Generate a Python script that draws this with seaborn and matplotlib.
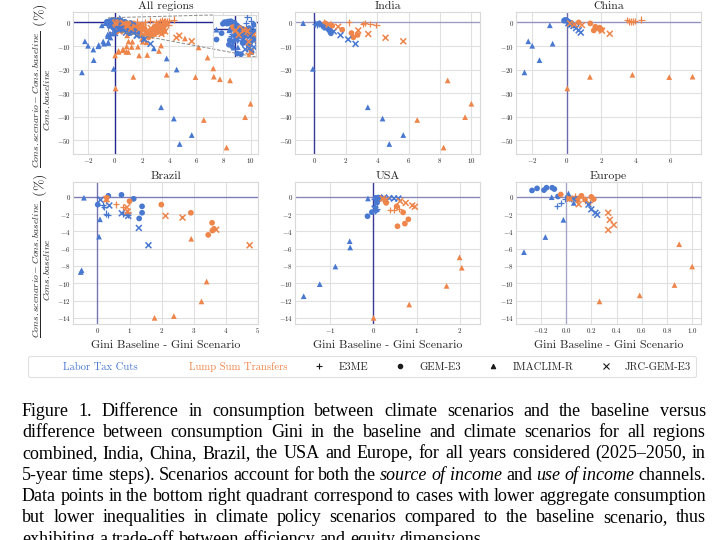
import matplotlib
matplotlib.use("Agg")
import matplotlib.pyplot as plt
import pandas as pd
import seaborn as sns
from matplotlib.lines import Line2D
from matplotlib.ticker import MultipleLocator
from mpl_toolkits.axes_grid1.inset_locator import mark_inset

# ---------------- data ----------------
# model codes: E=E3ME, G=GEM-E3, I=IMACLIM-R, J=JRC-GEM-E3
INDIA_LTC_MODEL = ['I','I','I','I','I','I','G','G','G','G','G','G','J','J','J','J','J','J','E','E','E','E','E','E']
INDIA_LTC_X = [-0.72,-0.10,3.40,4.34,4.77,5.66, 0.30,0.55,0.75,0.90,1.00,1.05, 0.20,0.75,1.23,1.66,2.15,2.62, 0.06,0.15,0.28,0.40,0.50,0.62]
INDIA_LTC_Y = [-0.3,-19.7,-36.0,-40.8,-51.6,-47.8, -0.5,-1.3,-2.2,-3.0,-3.9,-4.6, -0.6,-2.0,-3.8,-5.4,-7.2,-9.1, -0.7,-0.9,-0.5,-1.0,-1.4,-1.8]
INDIA_LSS_MODEL = ['I','I','I','I','I','G','G','G','G','G','G','J','J','J','J','J','J','E','E','E','E','E','E']
INDIA_LSS_X = [6.55,8.23,8.49,9.60,10.0, 0.70,1.13,1.77,2.36,2.48,2.75, 0.90,1.51,2.79,3.43,4.53,5.66, 0.64,2.19,3.10,3.57,3.94,3.20]
INDIA_LSS_Y = [-41.4,-53.1,-24.6,-40.2,-34.5, -0.4,-1.4,-3.1,-4.5,-6.3,-5.3, -0.9,-1.8,-3.4,-4.9,-6.5,-8.0, 0.0,0.0,-0.7,-0.7,-1.0,-0.3]

CHINA_LTC_MODEL = ['I','I','I','I','I','I','G','G','G','G','G','G','J','J','J','J','J','J','E','E','E','E','E','E']
CHINA_LTC_X = [-2.44,-2.22,-1.99,-1.57,-0.97,-0.81, -0.15,-0.08,0.00,0.06,0.12,0.20, 0.10,0.25,0.40,0.55,0.70,0.82, -0.05,0.05,0.15,0.25,0.30,0.35]
CHINA_LTC_Y = [-21.2,-8.0,-9.9,-16.0,-1.2,-9.0, 0.8,1.1,0.9,0.5,0.2,-0.2, -0.3,-0.9,-1.5,-2.4,-3.3,-4.3, 0.3,0.0,-0.4,-0.8,-0.3,-1.0]
CHINA_LSS_MODEL = ['I','I','I','I','I','G','G','G','G','G','G','J','J','J','J','J','J','E','E','E','E','E','E']
CHINA_LSS_X = [0.04,1.35,3.81,5.94,7.29, 0.70,1.37,1.57,1.66,1.91,2.02, 0.20,0.45,0.89,1.75,2.05,2.50, 3.50,3.60,3.70,3.85,3.95,4.33]
CHINA_LSS_Y = [-28.0,-23.1,-22.2,-23.2,-23.0, 0.0,-0.4,-3.4,-1.8,-2.2,-3.0, -0.4,-0.8,-1.1,-2.9,-3.5,-4.8, 1.0,0.5,0.3,0.5,0.7,1.2]

BRAZIL_LTC_MODEL = ['I','I','I','I','I','G','G','G','G','G','G','G','J','J','J','J','J','J','E','E','E','E','E','E']
BRAZIL_LTC_X = [-0.52,-0.49,-0.42,0.05,0.08, 0.01,0.34,0.75,1.13,1.39,1.39,1.30, 0.10,0.37,0.76,0.96,1.29,1.59, 0.16,0.22,0.26,0.32,0.80,0.94]
BRAZIL_LTC_Y = [-8.7,-8.5,-0.1,-4.6,-2.6, -0.9,0.12,0.23,-0.23,-1.1,-1.84,-2.5, -0.35,-1.0,-1.9,-2.2,-3.6,-5.6, -1.0,-1.2,-1.95,-2.1,-1.95,-2.1]
BRAZIL_LSS_MODEL = ['I','I','I','I','I','G','G','G','G','G','G','G','G','J','J','J','J','J','J','J','E','E','E','E']
BRAZIL_LSS_X = [1.78,2.38,2.92,3.24,3.40, 0.29,1.00,1.99,2.91,3.57,3.63,3.58,3.45, 0.28,0.92,0.94,2.12,2.65,3.70,4.74, 0.26,0.58,0.81,0.93]
BRAZIL_LSS_Y = [-14.0,-13.8,-4.85,-12.1,-9.8, -0.1,-0.5,-0.9,-1.84,-3.0,-3.7,-3.9,-4.4, -0.27,-1.2,-1.7,-2.2,-2.4,-3.8,-5.6, -0.5,-0.86,-1.2,-1.76]

USA_LTC_MODEL = ['I','I','I','I','I','I','G','G','G','G','G','G','E','E','E','E','E','E','J','J','J','J','J','J']
USA_LTC_X = [-1.60,-1.23,-0.87,-0.54,-0.53,-0.12, -0.13,-0.03,0.10,0.09,0.12,0.06, 0.02,0.04,0.06,0.08,0.05,0.03, 0.04,0.10,0.25,0.37,0.48,0.58]
USA_LTC_Y = [-11.5,-10.1,-8.06,-5.13,-5.86,-0.19, -2.24,-1.77,-0.39,-0.66,-0.08,-0.12, -1.1,-1.23,-1.54,-1.35,-1.6,-0.3, -1.35,-0.2,-0.08,-0.15,-0.19,-0.19]
USA_LSS_MODEL = ['I','I','I','I','I','G','G','G','G','G','G','G','J','J','J','J','J','J','E','E','E','E','E']
USA_LSS_X = [0.01,0.83,1.69,1.99,2.04, 0.28,0.30,0.54,0.69,0.81,0.73,0.56, 0.22,0.30,0.62,0.75,0.90,0.96, 0.18,0.25,0.39,0.47,0.60]
USA_LSS_Y = [-14.0,-12.46,-10.3,-7.0,-8.2, -0.5,-0.7,-1.1,-1.8,-2.6,-3.1,-3.4, -0.2,-0.35,-0.5,-0.7,-1.0,-1.15, -0.1,-0.25,-1.54,-1.54,-1.35]

EUROPE_LTC_MODEL = ['G','G','G','G','G','G','G','I','I','I','I','I','I','E','E','E','E','J','J','J','J','J']
EUROPE_LTC_X = [-0.27,-0.23,-0.175,-0.155,-0.11,-0.093,-0.064, -0.334,-0.164,-0.114,-0.021,0.019,0.061, -0.072,-0.042,-0.008,0.02, 0.061,0.178,0.20,0.233,0.247]
EUROPE_LTC_Y = [0.74,0.98,0.78,1.06,1.06,0.9,0.04, -6.4,-4.65,-0.04,-2.66,0.39,-0.7, -1.06,-0.7,-0.2,-0.1, -0.27,-0.9,-1.45,-1.84,-2.07]
EUROPE_LSS_MODEL = ['G','G','G','G','G','G','G','E','E','E','E','J','J','J','J','J','J','I','I','I','I','I']
EUROPE_LSS_X = [-0.042,0.024,0.09,0.122,0.15,0.20,0.22, 0.07,0.095,0.15,0.19, 0.03,0.10,0.334,0.347,0.379,0.334, 0.265,0.584,0.86,0.897,1.0]
EUROPE_LSS_Y = [0.27,-0.2,-0.39,0.12,-0.31,0.0,-0.27, 0.08,-0.12,-0.5,-0.59, -0.2,-0.86,-1.84,-2.66,-3.25,-3.83, -12.1,-11.4,-10.2,-5.48,-8.06]

# points that only appear in the "All regions" panel (other regions)
OTHER_LTC_MODEL = ['I','I','I','I','I','I'] + ['G'] * 17 + ['E','E','E','J','J','J','J']
OTHER_LTC_X = [2.14,2.87,3.81,4.55,-0.37,-1.20, -0.60,-0.42,-0.30,0.45,0.42,0.47,0.35,0.40,0.15,-0.05,1.30,1.60,1.80,-0.11,0.07,0.38,0.19, 0.30,0.38,0.27, 0.25,0.45,0.34,1.40]
OTHER_LTC_Y = [-6.8,-11.0,-15.3,-20.0,-4.7,-9.6, 0.3,-1.5,-0.6,0.6,-0.5,-1.4,-2.2,-3.3,-3.6,-2.5,-2.8,-3.6,-4.8,-1.6,-3.5,-1.8,-2.0, 1.7,1.2,0.8, -2.9,-2.6,-2.8,-4.2]
OTHER_LSS_MODEL = ['I'] * 11 + ['G'] * 12 + ['J','J','J','E','E','E','E']
OTHER_LSS_X = [0.25,0.61,0.98,1.23,1.28,5.16,6.17,6.83,7.25,7.74,2.33, 2.60,2.90,3.10,3.30,3.50,2.40,1.80,1.40,2.20,3.70,3.60,2.00, 3.20,1.20,2.60, 2.60,3.00,3.30,1.60]
OTHER_LSS_Y = [-12.5,-11.8,-12.5,-10.4,-8.2,-6.8,-10.6,-14.9,-19.5,-24.1,-8.4, -3.5,-2.5,-4.2,-3.0,-1.5,-5.0,-1.0,-2.0,-2.8,-1.1,-3.3,-5.5, -2.0,-2.6,-5.6, 0.8,0.2,0.6,0.3]

SCENARIOS = ['Labor Tax Cuts', 'Lump Sum Transfers']
MODELS = ['E3ME', 'GEM-E3', 'IMACLIM-R', 'JRC-GEM-E3']
MODEL_CODES = {'E': 'E3ME', 'G': 'GEM-E3', 'I': 'IMACLIM-R', 'J': 'JRC-GEM-E3'}
PANEL_TITLES = ['All regions', 'India', 'China', 'Brazil', 'USA', 'Europe']
XLABEL = 'Gini Baseline - Gini Scenario'
YLABEL = r'$\frac{Cons.scenario - Cons.baseline}{Cons.baseline}$ (%)'

# words starting with '*' are set in italics
CAPTION_LINES = [
    "Figure 1. Difference in consumption between climate scenarios and the baseline versus",
    "difference between consumption Gini in the baseline and climate scenarios for all regions",
    "combined, India, China, Brazil, the USA and Europe, for all years considered (2025\u20132050, in",
    "5-year time steps). Scenarios account for both the *source *of *income and *use *of *income channels.",
    "Data points in the bottom right quadrant correspond to cases with lower aggregate consumption",
    "but lower inequalities in climate policy scenarios compared to the baseline scenario, thus",
    "exhibiting a trade-off between efficiency and equity dimensions.",
]

# ---------------- style ----------------
PALETTE = {'Labor Tax Cuts': '#4878d0', 'Lump Sum Transfers': '#ee854a'}
MARKERS = {'E3ME': '+', 'GEM-E3': 'o', 'IMACLIM-R': '^', 'JRC-GEM-E3': 'x'}
SIZES = {'E3ME': 22, 'GEM-E3': 17, 'IMACLIM-R': 17, 'JRC-GEM-E3': 18}
LWS = {'E3ME': 0.9, 'GEM-E3': 0, 'IMACLIM-R': 0, 'JRC-GEM-E3': 1.1}
REFCOLOR = '#1c1c8c'

sns.set_theme(style='whitegrid')
plt.rcParams['font.family'] = ['cmr10', 'DejaVu Sans']
plt.rcParams['mathtext.fontset'] = 'cm'
plt.rcParams['axes.formatter.use_mathtext'] = True


def region_frame(ltc_m, ltc_x, ltc_y, lss_m, lss_x, lss_y):
    a = pd.DataFrame({'x': ltc_x, 'y': ltc_y, 'model': [MODEL_CODES[m] for m in ltc_m]})
    a['scenario'] = SCENARIOS[0]
    b = pd.DataFrame({'x': lss_x, 'y': lss_y, 'model': [MODEL_CODES[m] for m in lss_m]})
    b['scenario'] = SCENARIOS[1]
    return pd.concat([a, b], ignore_index=True)


india = region_frame(INDIA_LTC_MODEL, INDIA_LTC_X, INDIA_LTC_Y, INDIA_LSS_MODEL, INDIA_LSS_X, INDIA_LSS_Y)
china = region_frame(CHINA_LTC_MODEL, CHINA_LTC_X, CHINA_LTC_Y, CHINA_LSS_MODEL, CHINA_LSS_X, CHINA_LSS_Y)
brazil = region_frame(BRAZIL_LTC_MODEL, BRAZIL_LTC_X, BRAZIL_LTC_Y, BRAZIL_LSS_MODEL, BRAZIL_LSS_X, BRAZIL_LSS_Y)
usa = region_frame(USA_LTC_MODEL, USA_LTC_X, USA_LTC_Y, USA_LSS_MODEL, USA_LSS_X, USA_LSS_Y)
europe = region_frame(EUROPE_LTC_MODEL, EUROPE_LTC_X, EUROPE_LTC_Y, EUROPE_LSS_MODEL, EUROPE_LSS_X, EUROPE_LSS_Y)
other = region_frame(OTHER_LTC_MODEL, OTHER_LTC_X, OTHER_LTC_Y, OTHER_LSS_MODEL, OTHER_LSS_X, OTHER_LSS_Y)
allreg = pd.concat([india, china, brazil, usa, europe, other], ignore_index=True)
frames = [allreg, india, china, brazil, usa, europe]

# ---------------- layout ----------------
W, H = 720, 540
fig = plt.figure(figsize=(7.2, 5.4), dpi=100)
col_left = [73, 295, 516]
ax_w = 185
row_top = [12, 182]
ax_h = 142
XLIMS = [(-3.1, 10.55), (-1.24, 10.55), (-2.93, 7.78), (-0.76, 5.0), (-1.8, 2.46), (-0.397, 1.07)]
XSTEPS = [2, 2, 2, 1, 1, 0.2]
HALPHA = [0.95, 0.35, 0.4, 0.5, 0.45, 0.45]
VALPHA = [0.95, 0.85, 0.6, 0.55, 0.85, 0.3]


def draw_points(ax, df):
    for model in MODELS:
        sub = df[df['model'] == model]
        if sub.empty:
            continue
        kw = dict(linewidth=LWS[model])
        if LWS[model] == 0:
            kw['edgecolor'] = 'none'
        sns.scatterplot(data=sub, x='x', y='y', hue='scenario', hue_order=SCENARIOS,
                        palette=PALETTE, marker=MARKERS[model], s=SIZES[model],
                        legend=False, ax=ax, zorder=3, **kw)


axes = []
for i, df in enumerate(frames):
    r, c = divmod(i, 3)
    left = col_left[c] / W
    bottom = 1 - (row_top[r] + ax_h) / H
    ax = fig.add_axes([left, bottom, ax_w / W, ax_h / H])
    axes.append(ax)
    ax.axhline(0, color=REFCOLOR, alpha=HALPHA[i], lw=1.0, zorder=2)
    ax.axvline(0, color=REFCOLOR, alpha=VALPHA[i], lw=1.0, zorder=2)
    draw_points(ax, df)
    ax.set_xlim(*XLIMS[i])
    ax.xaxis.set_major_locator(MultipleLocator(XSTEPS[i]))
    ax.yaxis.set_major_locator(MultipleLocator(10 if r == 0 else 2))
    ax.tick_params(labelsize=5, pad=1.5, length=0)
    ax.set_title(PANEL_TITLES[i], fontsize=8.5, pad=2.5)
    ax.set_ylabel('')
    ax.set_xlabel(XLABEL if r == 1 else '', fontsize=8.5, labelpad=4)
    for s in ax.spines.values():
        s.set_color('0.85')
        s.set_linewidth(0.8)
    ax.grid(color='0.88', lw=0.8)
    if c == 0:
        ax.text(-0.17, 0.48, YLABEL, rotation=90, transform=ax.transAxes,
                ha='center', va='center', fontsize=10.0)

# shared y within rows
top_lim = axes[0].get_ylim()
for ax in axes[1:3]:
    ax.set_ylim(*top_lim)
ymin = min(ax.get_ylim()[0] for ax in axes[3:])
ymax = max(ax.get_ylim()[1] for ax in axes[3:])
for ax in axes[3:]:
    ax.set_ylim(ymin, ymax)

# inset on "All regions"
ax0 = axes[0]
axins = ax0.inset_axes([0.757, 0.683, 0.232, 0.296])
axins.axhline(0, color=REFCOLOR, alpha=0.95, lw=1.0, zorder=2)
axins.axvline(0, color=REFCOLOR, alpha=0.95, lw=1.0, zorder=2)
draw_points(axins, allreg)
axins.set_xlim(-0.5, 0.5)
axins.set_ylim(-4, 2)
axins.set_xticks([])
axins.set_yticks([])
axins.set_xlabel('')
axins.set_ylabel('')
axins.grid(False)
axins.set_facecolor('white')
for s in axins.spines.values():
    s.set_color('0.85')
    s.set_linewidth(0.8)
mark_inset(ax0, axins, loc1=2, loc2=4, ec='0.55', ls='--', lw=0.7)

# legend
handles = [Line2D([], [], ls='none'), Line2D([], [], ls='none')]
for model in MODELS:
    handles.append(Line2D([], [], ls='none', marker=MARKERS[model], color='k',
                          markersize=3.2 if model in ('GEM-E3', 'IMACLIM-R') else 3.8,
                          markeredgewidth=0.8))
labels = SCENARIOS + MODELS
leg = fig.legend(handles, labels, loc='center', bbox_to_anchor=(362 / W, 1 - 366.5 / H),
                 ncol=6, fontsize=7.7, frameon=True, handlelength=2.0, handletextpad=0.8,
                 columnspacing=2.0, borderpad=0.5)
leg.get_frame().set_edgecolor('0.85')
leg.get_frame().set_linewidth(0.8)
for t, lab in zip(leg.get_texts(), labels):
    if lab in PALETTE:
        t.set_color(PALETTE[lab])

# caption (justified)
renderer = fig.canvas.get_renderer()
CAP_FS = 13.0
x0, x1 = 22, 706
base0, step = 415.5, 21.35
for li, line in enumerate(CAPTION_LINES):
    items = []
    for w in line.split(' '):
        if w.startswith('*'):
            items.append((w[1:], 'italic'))
        else:
            items.append((w, 'normal'))
    texts = []
    widths = []
    for w, st in items:
        t = fig.text(0, 0, w, fontsize=CAP_FS, family=['Liberation Serif', 'DejaVu Serif'],
                     style=st, ha='left', va='baseline', color='black')
        texts.append(t)
        widths.append(t.get_window_extent(renderer).width)
    y = 1 - (base0 + li * step) / H
    last = li == len(CAPTION_LINES) - 1
    if last or len(texts) == 1:
        gap = CAP_FS * 100 / 72 * 0.25
    else:
        gap = (x1 - x0 - sum(widths)) / (len(texts) - 1)
    xc = x0
    for t, wd in zip(texts, widths):
        t.set_position((xc / W, y))
        xc += wd + gap

fig.savefig('out.png', dpi=100)
